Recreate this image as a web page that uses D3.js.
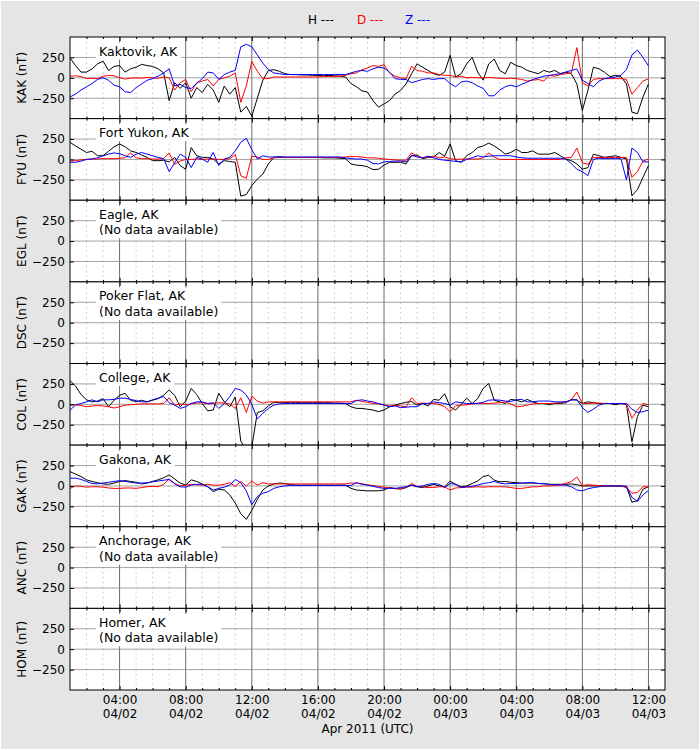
<!DOCTYPE html>
<html><head><meta charset="utf-8">
<script src="https://cdn.jsdelivr.net/npm/d3@7"></script>
<style>
body{margin:0;background:#fff}
svg{display:block}
text{font-family:"DejaVu Sans",sans-serif}
</style>
</head><body>
<svg id="chart" width="700" height="750"></svg>
<script>
// ---------------- data ----------------
const stationCodes = ["KAK","FYU","EGL","DSC","COL","GAK","ANC","HOM"];
const stationNames = ["Kaktovik, AK","Fort Yukon, AK","Eagle, AK","Poker Flat, AK","College, AK","Gakona, AK","Anchorage, AK","Homer, AK"];
const componentNames = ["H","D","Z"];
const yTickValues = [-250, 0, 250];
const timeStart = "2011-04-02T01:00:00Z";
const timeEnd = "2011-04-03T13:00:00Z";
const sampleStepMinutes = 20;
const xAxisTitle = "Apr 2011 (UTC)";

const KAK_H = [245,150,70,70,110,170,205,90,140,150,
70,110,130,165,150,140,110,60,-280,-60,
-130,-60,-250,-120,-180,-80,-150,-300,-100,-200,
-120,-420,-350,-470,-250,-30,90,100,80,50,
40,40,35,35,30,30,25,30,25,20,
10,-70,-110,-160,-175,-280,-360,-320,-280,-200,
-155,-75,50,170,130,90,50,30,70,275,
10,50,170,250,70,-30,170,230,90,50,
190,150,130,90,70,50,90,70,90,50,
70,50,-75,-400,-155,130,110,70,15,30,
15,-75,-420,-440,-235,-75];
const KAK_D = [20,25,15,-10,-5,-10,20,30,25,0,
-15,-5,0,-5,5,0,-5,10,0,-150,
-60,-20,-170,-60,-40,-20,-100,-20,0,20,
60,-300,-100,200,80,-10,-10,10,10,10,
10,10,10,10,10,10,15,15,15,20,
30,50,60,100,120,150,140,160,60,20,
0,-10,140,90,80,60,60,40,30,30,
10,20,0,5,0,0,5,0,-5,-10,
-5,-10,-20,-40,-30,-20,-40,30,20,40,
50,60,370,-60,-100,-20,-10,-10,-10,-10,
-10,-20,-200,-120,-40,-10];
const KAK_Z = [-235,-200,-150,-110,-70,-20,0,-30,-90,-110,
-170,-180,-120,-75,-30,-10,20,60,110,-100,
-80,-120,-130,-70,-10,70,60,-20,40,70,
90,380,410,380,280,180,100,60,50,40,
40,40,40,40,40,40,40,40,40,40,
40,60,80,90,80,110,130,120,70,-10,
-20,-20,-60,-40,-20,-10,-20,-10,-10,-70,
-110,-50,-40,-60,-100,-130,-220,-220,-150,-110,
-90,-110,-80,-50,-20,0,20,30,40,50,
70,90,110,-30,-70,-110,-40,-10,0,10,
30,100,280,340,250,145];

const FYU_H = [210,165,125,85,100,45,45,100,155,190,
155,105,85,55,25,-15,-15,-10,-30,25,
-75,-120,145,45,25,25,5,-55,-15,-25,
-35,-450,-430,-320,-240,-180,-55,25,35,25,
25,25,25,25,25,25,20,20,20,15,
10,-55,-70,-75,-90,-125,-120,-70,-35,-35,
-35,-55,45,55,10,25,30,85,40,190,
-15,-35,45,85,145,165,200,165,120,65,
85,125,85,85,105,65,65,65,85,45,
5,-15,-55,-120,-100,65,45,25,35,45,
25,5,-445,-370,-220,-75];
const FYU_D = [-20,-15,-5,0,5,5,10,10,10,15,
20,80,20,10,10,5,5,10,80,-60,
-20,0,0,5,0,5,5,0,0,10,
60,-200,-230,40,30,0,0,20,25,25,
25,25,25,25,25,25,25,25,25,25,
30,35,35,30,20,20,15,5,0,-5,
-10,-10,80,40,20,30,40,20,30,10,
0,5,5,5,5,20,80,30,0,0,
0,0,0,0,0,0,0,0,0,0,
20,25,140,-40,-60,25,25,25,25,25,
25,25,-220,-150,-20,5];
const FYU_Z = [-35,-35,-20,0,5,20,45,65,80,70,
45,25,65,85,65,45,25,10,-150,-40,
65,25,-100,25,5,-35,85,-75,5,25,
105,210,260,120,5,45,30,30,30,30,
30,30,30,30,30,30,30,30,30,30,
20,10,5,5,-10,-50,-55,-30,-25,-20,
-20,-30,50,30,20,40,20,0,-10,-15,
-25,-30,0,20,45,30,40,45,45,45,
45,30,20,15,15,15,15,15,15,15,
5,-50,-120,-150,-200,0,15,10,10,10,
10,-250,140,85,-30,-30];

const COL_H = [290,225,120,55,30,40,70,-30,50,110,
135,50,30,50,30,50,70,110,175,110,
-30,40,195,120,10,-80,-70,135,30,-30,
90,-450,-560,-520,-100,-80,-20,25,20,20,
25,25,20,20,20,20,20,20,15,15,
10,-30,-50,-50,-60,-70,-90,-70,-30,-10,
10,25,35,-10,10,-20,60,50,130,-30,
-70,0,75,10,70,195,255,50,30,10,
60,50,30,60,30,10,10,-5,10,10,
20,60,50,10,30,20,10,10,10,-5,
10,0,-460,-150,-10,-30];
const COL_D = [-10,-5,-15,-30,-20,-15,-20,-30,-45,-30,
-10,-5,0,5,5,5,5,10,80,-10,
5,-5,5,15,20,5,10,20,15,5,
-50,80,-100,100,40,15,30,30,30,30,
30,30,30,30,30,30,30,30,30,30,
30,30,50,35,25,10,5,-5,-20,-10,
-20,-30,80,10,15,10,10,0,-30,-90,
-20,-10,-5,5,15,10,10,15,20,30,
5,-30,-25,-10,5,10,10,10,15,20,
30,55,150,10,10,15,15,10,10,10,
10,0,-170,-70,10,-5];
const COL_Z = [-70,-10,10,30,55,30,55,55,60,75,
75,60,45,30,30,55,75,95,20,-10,
-50,-30,10,30,30,10,20,-50,10,95,
195,175,115,0,-180,-110,-50,-10,5,10,
10,10,10,10,10,10,10,10,10,10,
10,10,45,55,40,30,10,-10,-30,-20,
-40,-35,-30,-30,10,10,30,20,10,-10,
30,20,10,10,10,25,50,55,50,40,
35,55,60,30,30,40,40,40,30,30,
30,50,60,-40,-100,-60,-10,10,10,10,
10,10,-60,-100,-90,-70];

const GAK_H = [175,145,115,75,55,40,25,20,35,55,
65,55,45,25,35,55,75,100,135,85,
35,10,75,55,25,-10,-70,-40,-50,-110,
-210,-340,-410,-300,-165,-50,0,25,35,30,
15,10,10,10,10,10,10,10,10,10,
10,-30,-50,-55,-60,-60,-60,-50,-20,-30,
-40,-20,10,-10,-20,0,20,0,-10,60,
20,-10,0,30,60,115,130,70,50,55,
45,40,35,35,35,30,25,20,20,20,
20,25,15,0,0,0,0,0,0,0,
-5,-10,-200,-180,-40,-10];
const GAK_D = [-30,0,-5,-15,-10,-10,-15,-25,-30,-30,
-25,-25,-30,-20,-10,-5,-10,20,85,30,
0,10,20,15,10,20,10,10,20,40,
-5,55,0,60,10,40,25,25,25,25,
25,25,25,25,25,25,25,25,25,25,
25,35,35,25,15,5,-5,-15,-25,-35,
-30,-20,30,-5,-10,-20,-20,-10,-10,-50,
-25,-20,-15,-15,-10,-15,-10,-10,-10,-10,
-20,-30,-30,-20,-10,-10,0,0,5,15,
30,55,110,5,15,10,5,0,0,0,
0,-20,-90,-80,-10,-10];
const GAK_Z = [95,95,80,55,30,25,35,45,55,65,
55,45,35,35,40,50,60,70,80,25,
-10,-15,10,20,20,-10,-50,-30,-15,10,
80,40,-60,-230,-130,-90,-70,-30,-10,0,
5,5,5,5,5,5,5,5,5,5,
5,5,40,20,10,-5,-20,-30,-30,-30,
-20,-10,10,-10,0,20,30,20,-20,30,
20,-20,-10,-5,10,30,40,55,35,25,
30,30,35,40,40,30,30,20,15,10,
10,-10,-50,-60,-35,-20,-10,0,0,0,
0,0,-140,-190,-110,-55];

const stationSeries = {
  KAK: [KAK_H, KAK_D, KAK_Z],
  FYU: [FYU_H, FYU_D, FYU_Z],
  EGL: null,
  DSC: null,
  COL: [COL_H, COL_D, COL_Z],
  GAK: [GAK_H, GAK_D, GAK_Z],
  ANC: null,
  HOM: null
};

// ---------------- drawing ----------------
const colors = ["#000000", "#ff0000", "#0000ff"];
const W = 700, H = 750;
const left = 70, right = 665, top0 = 37, bottom = 690;
const ph = (bottom - top0) / stationCodes.length;

const svg = d3.select("#chart");
svg.append("rect").attr("x", 1).attr("y", 1).attr("width", W - 2).attr("height", H - 2).attr("fill", "#e5e5e5");

const t0 = new Date(timeStart), t1 = new Date(timeEnd);
const x = d3.scaleUtc().domain([t0, t1]).range([left, right]);
const timeAt = k => new Date(+t0 + k * sampleStepMinutes * 60000);
const hourTicks = d3.utcHour.range(t0, new Date(+t1 + 1));
const majorTicks = d3.utcHour.every(4).range(t0, new Date(+t1 + 1));
const isMajor = d => d.getUTCHours() % 4 === 0;
const minorTicks = hourTicks.filter(d => !isMajor(d) && +d > +t0 && +d < +t1);

// legend
const legend = svg.append("g").attr("font-size", 12);
const legendX = [308, 357, 405];
componentNames.forEach((c, i) => {
  legend.append("text").attr("x", legendX[i]).attr("y", 24).attr("fill", colors[i]).text(c + " ---");
});

const defs = svg.append("defs");

stationCodes.forEach((code, i) => {
  const top = top0 + i * ph;
  const y = d3.scaleLinear().domain([-500, 500]).range([top + ph, top]);
  const g = svg.append("g");

  g.append("rect").attr("x", left).attr("y", top).attr("width", right - left).attr("height", ph).attr("fill", "#fff");

  // minor dashed vertical grid
  g.selectAll(".minor").data(minorTicks).join("line")
    .attr("x1", d => x(d)).attr("x2", d => x(d)).attr("y1", top).attr("y2", top + ph)
    .attr("stroke", "#c4c4c4").attr("stroke-width", 0.8).attr("stroke-dasharray", "2,3");
  // major vertical grid
  g.selectAll(".major").data(majorTicks.filter(d => +d > +t0 && +d < +t1)).join("line")
    .attr("x1", d => x(d)).attr("x2", d => x(d)).attr("y1", top).attr("y2", top + ph)
    .attr("stroke", "#444").attr("stroke-width", 0.8);
  // horizontal grid
  g.selectAll(".hgrid").data(yTickValues).join("line")
    .attr("x1", left).attr("x2", right).attr("y1", d => y(d)).attr("y2", d => y(d))
    .attr("stroke", "#8c8c8c").attr("stroke-width", 0.8);

  // data
  const clipId = "clip" + i;
  defs.append("clipPath").attr("id", clipId).append("rect")
    .attr("x", left).attr("y", top).attr("width", right - left).attr("height", ph);
  const series = stationSeries[code];
  if (series) {
    const line = d3.line().x((d, k) => x(timeAt(k))).y(d => y(d));
    series.forEach((vals, ci) => {
      g.append("path").attr("d", line(vals)).attr("fill", "none")
        .attr("stroke", colors[ci]).attr("stroke-width", 1).attr("stroke-linejoin", "round")
        .attr("clip-path", `url(#${clipId})`);
    });
  }

  // ticks (inward)
  const yl = g.append("g").attr("transform", `translate(${left},0)`)
    .call(d3.axisLeft(y).tickValues(yTickValues).tickSizeInner(-4).tickSizeOuter(0).tickPadding(5));
  yl.select(".domain").remove();
  yl.selectAll("text").attr("font-size", 12).attr("font-family", '"DejaVu Sans",sans-serif').attr("fill", "#000");
  const yr = g.append("g").attr("transform", `translate(${right},0)`)
    .call(d3.axisRight(y).tickValues(yTickValues).tickSizeInner(-4).tickSizeOuter(0).tickFormat(""));
  yr.select(".domain").remove();

  const xt = g.append("g").attr("transform", `translate(0,${top})`)
    .call(d3.axisTop(x).tickValues(majorTicks).tickSizeInner(-4).tickSizeOuter(0).tickFormat(""));
  xt.select(".domain").remove();
  const xtm = g.append("g").attr("transform", `translate(0,${top})`)
    .call(d3.axisTop(x).tickValues(minorTicks).tickSizeInner(-2).tickSizeOuter(0).tickFormat(""));
  xtm.select(".domain").remove();
  const xb = g.append("g").attr("transform", `translate(0,${top + ph})`)
    .call(d3.axisBottom(x).tickValues(majorTicks).tickSizeInner(-4).tickSizeOuter(0).tickPadding(8)
      .tickFormat(i === stationCodes.length - 1 ? d3.utcFormat("%H:%M") : ""));
  xb.select(".domain").remove();
  const xbm = g.append("g").attr("transform", `translate(0,${top + ph})`)
    .call(d3.axisBottom(x).tickValues(minorTicks).tickSizeInner(-2).tickSizeOuter(0).tickFormat(""));
  xbm.select(".domain").remove();

  if (i === stationCodes.length - 1) {
    const dfmt = d3.utcFormat("%m/%d"), hfmt = d3.utcFormat("%H:%M");
    xb.selectAll("text").each(function(d) {
      const t = d3.select(this);
      t.text(null).attr("font-size", 12).attr("fill", "#000").attr("y", 14).attr("dy", 0);
      t.append("tspan").attr("x", 0).attr("y", 14).text(hfmt(d));
      t.append("tspan").attr("x", 0).attr("y", 28).text(dfmt(d));
    });
  }

  // frame
  g.append("rect").attr("x", left).attr("y", top).attr("width", right - left).attr("height", ph)
    .attr("fill", "none").attr("stroke", "#000").attr("stroke-width", 1);

  // y label
  g.append("text").attr("transform", `translate(26,${top + ph / 2}) rotate(-90)`)
    .attr("text-anchor", "middle").attr("font-size", 12).text(code + " (nT)");

  // station label with white box
  const lab = g.append("g");
  const txt = lab.append("text").attr("x", 99).attr("y", top + 18.5).attr("font-size", 12.5);
  txt.append("tspan").attr("x", 99).attr("y", top + 18.5).text(stationNames[i]);
  if (!series) {
    txt.append("tspan").attr("x", 99).attr("y", top + 34).text("(No data available)");
  }
  const bb = txt.node().getBBox();
  lab.insert("rect", "text").attr("x", bb.x - 3).attr("y", bb.y - 1)
    .attr("width", bb.width + 6).attr("height", bb.height + 2).attr("fill", "#fff");
});

svg.append("text").attr("x", (left + right) / 2).attr("y", 733).attr("text-anchor", "middle")
  .attr("font-size", 12).text(xAxisTitle);
</script>
</body></html>
